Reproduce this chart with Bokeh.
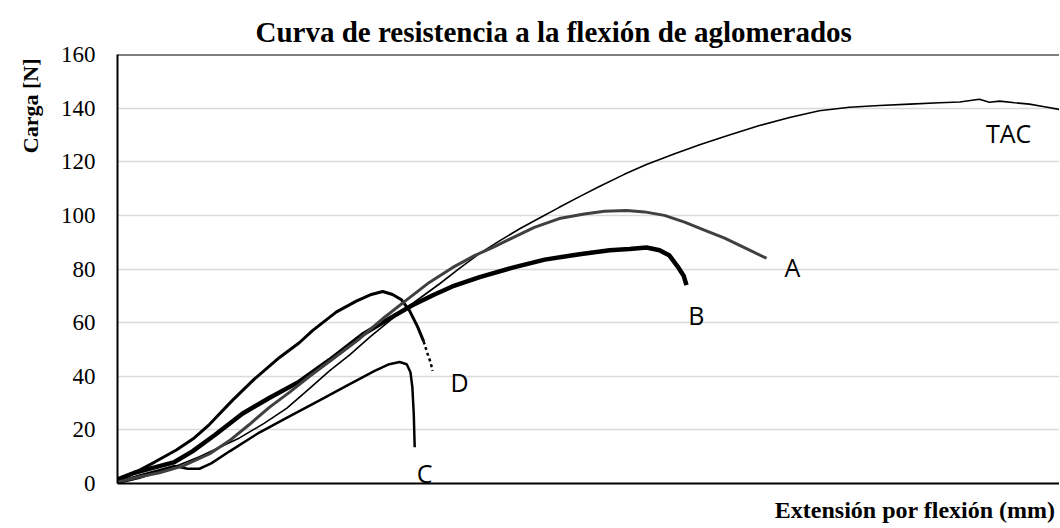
from bokeh.plotting import figure
from bokeh.models import Range1d, FixedTicker, Label, Span, Title
from bokeh.embed import file_html
from bokeh.resources import INLINE

# ---- data (extension in mm, load in N) ----
tac_x = [0, 0.47, 0.89, 1.32, 1.74, 2.17, 2.59, 3.12, 3.59, 4.08, 4.50, 4.93, 5.35, 5.92,
         6.41, 6.84, 7.26, 7.69, 8.11, 8.54, 8.96, 9.38, 9.81, 10.23, 10.76, 11.23, 11.83,
         12.36, 12.99, 13.63, 14.27, 14.90, 15.54, 16.18, 16.82, 17.45, 17.88, 18.30,
         18.51, 18.73, 19.05, 19.36, 19.68, 20.0]
tac_y = [0, 2, 4.5, 7, 10, 13.5, 17, 22.5, 28, 35.5, 42, 48, 54.5, 62.7, 69, 74.5, 80.2,
         85.8, 90.5, 95, 99, 103, 107, 110.8, 115.3, 119, 123, 126.3, 130, 133.5, 136.5, 139,
         140.3, 141, 141.5, 142, 142.3, 143.3, 142.2, 142.6, 142, 141.5, 140.5, 139.5]

a_x = [0, 0.47, 0.89, 1.38, 1.95, 2.38, 2.80, 3.23, 3.65, 4.08, 4.61, 5.14, 5.67, 6.14,
       6.62, 7.11, 7.58, 7.96, 8.43, 8.85, 9.38, 9.91, 10.34, 10.81, 11.19, 11.61, 12.04,
       12.46, 12.89, 13.31, 13.78]
a_y = [0.5, 2.5, 4, 6.5, 11, 16, 22, 28.5, 34, 40, 47, 54, 62, 68.5, 75, 80.5, 85, 88, 92,
       95.5, 98.8, 100.5, 101.5, 101.8, 101.3, 100, 97.5, 94.5, 91.5, 88, 84]

b_x = [0, 0.36, 0.79, 1.21, 1.59, 2.06, 2.65, 3.23, 3.86, 4.50, 5.20, 5.77, 6.26, 6.73,
       7.11, 7.69, 8.39, 9.07, 9.81, 10.45, 10.87, 11.23, 11.51, 11.72, 11.89, 12.02, 12.08]
b_y = [1.5, 4, 6, 8, 12, 18, 26, 32, 38, 46, 55.5, 61.5, 66.5, 70.5, 73.5, 77, 80.5, 83.5,
       85.5, 87, 87.5, 88, 87, 85, 81, 77.5, 74]

c_x = [0, 0.47, 0.89, 1.21, 1.49, 1.74, 1.99, 2.38, 3.01, 3.65, 4.29, 4.92, 5.46, 5.77,
       5.99, 6.14, 6.22, 6.26, 6.29, 6.31]
c_y = [0.5, 3, 5, 6.5, 5.5, 5.5, 7.5, 12, 19, 25, 31, 37, 42, 44.5, 45.3, 44.5, 41.5, 36,
       26, 13.5]

d_x = [0, 0.36, 0.79, 1.25, 1.63, 1.95, 2.44, 2.91, 3.44, 3.86, 4.14, 4.65, 5.07, 5.39,
       5.63, 5.84, 6.03, 6.20, 6.37, 6.50, 6.58, 6.65, 6.69]
d_y = [1, 4, 8, 12.5, 17, 22, 31, 39, 47, 52.5, 57, 64, 68, 70.5, 71.6, 70.5, 68.5, 64.5,
       58.5, 53, 48.5, 45, 42]

series_names = ["TAC", "A", "B", "C", "D"]
name_x = [18.92, 14.33, 12.29, 6.52, 7.26]
name_y = [130.6, 80.6, 63.0, 4.1, 38.0]

y_ticks = [0, 20, 40, 60, 80, 100, 120, 140, 160]
y_tick_labels = ["0", "20", "40", "60", "80", "100", "120", "140", "160"]

title_text = "Curva de resistencia a la flexión de aglomerados"
x_label = "Extensión por flexión (mm)"
y_label = "Carga [N]"

# ---- figure ----
p = figure(frame_width=942, frame_height=429, output_backend="svg", toolbar_location=None,
           x_range=Range1d(0, 20), y_range=Range1d(0, 160),
           min_border_left=0, min_border_right=0, min_border_top=54,
           min_border_bottom=0)
p.outline_line_color = None
p.background_fill_color = "white"
p.border_fill_color = "white"

p.title.text = title_text
p.title.text_font = "Liberation Serif"
p.title.text_font_size = "29px"
p.title.text_font_style = "bold"
p.title.text_color = "black"
p.title.align = "left"
p.title.offset = 138
p.title.standoff = 14

p.xgrid.grid_line_color = None
p.ygrid.grid_line_color = "#d9d9d9"
p.ygrid.grid_line_width = 1.5

p.yaxis.ticker = FixedTicker(ticks=y_ticks)
p.yaxis.major_label_overrides = {t: l for t, l in zip(y_ticks, y_tick_labels)}
p.yaxis.major_tick_line_color = None
p.yaxis.minor_tick_line_color = None
p.yaxis.axis_line_color = "black"
p.yaxis.axis_line_width = 2
p.yaxis.major_label_text_font = "Liberation Serif"
p.yaxis.major_label_text_font_size = "23px"
p.yaxis.major_label_text_color = "black"
p.yaxis.major_label_standoff = 16

p.xaxis.ticker = FixedTicker(ticks=[])
p.xaxis.major_tick_line_color = None
p.xaxis.minor_tick_line_color = None
p.xaxis.major_label_text_font_size = "1px"
p.xaxis.major_label_standoff = 0
p.xaxis.axis_line_color = "black"
p.xaxis.axis_line_width = 2

# axis titles as side titles (right/top aligned like the reference)
p.add_layout(Title(text=x_label, text_font="Liberation Serif", text_font_size="24px",
                   text_font_style="bold", text_color="black", align="right",
                   offset=4, standoff=23), "below")
p.add_layout(Title(text=y_label, text_font="Liberation Serif", text_font_size="22px",
                   text_font_style="bold", text_color="black", align="right",
                   offset=4, standoff=30), "left")

p.add_layout(Span(location=160, dimension="width", line_color="black", line_width=2))

# curves
p.line(tac_x, tac_y, line_color="black", line_width=1.6)
p.line(b_x, b_y, line_color="black", line_width=4.5)
p.line(c_x, c_y, line_color="black", line_width=2.5)
p.line(d_x[:-3], d_y[:-3], line_color="black", line_width=3)
p.line(d_x[-4:], d_y[-4:], line_color="black", line_width=2.5, line_dash="3 3")
p.line(a_x, a_y, line_color="#404040", line_width=3)

for n, xx, yy in zip(series_names, name_x, name_y):
    p.add_layout(Label(x=xx, y=yy, text=n, text_font="Open Sans", text_font_size="25px",
                       text_color="black", text_align="center", text_baseline="middle"))

open("out.html", "w").write(file_html(p, INLINE))
